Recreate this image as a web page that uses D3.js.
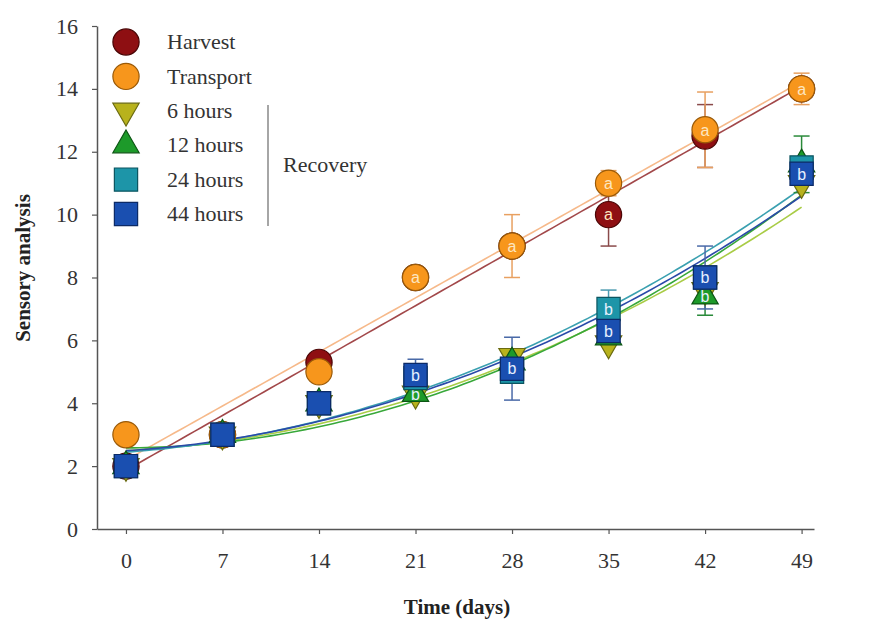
<!DOCTYPE html>
<html>
<head>
<meta charset="utf-8">
<script src="https://cdn.jsdelivr.net/npm/d3@7"></script>
<style>
  body { margin: 0; background: #fff; }
  svg { display: block; }
</style>
</head>
<body>
<div id="chart"></div>
<script>
// values
const days = [0, 7, 14, 21, 28, 35, 42, 49];

const harvest   = [2, 3, 5.3, 8, 9, 10, 12.5, 14];
const transport = [3, 3, 5, 8, 9, 11, 12.7, 14];
const hours6    = [2, 3, 4, 4.3, 5.5, 5.9, 7.6, 11.0];
const hours12   = [2, 3, 4, 4.3, 5.3, 6.1, 7.4, 11.6];
const hours24   = [2, 3, 4, 4.8, 5.0, 7.0, 8.0, 11.5];
const hours44   = [2, 3, 4, 4.9, 5.1, 6.3, 8.0, 11.3];

const harvestErr   = [0, 0, 0, 0, 0, 1, 1, 0];
const transportErr = [0, 0, 0, 0, 1, 0.4, 1.2, 0.5];
const hours6Err    = [0, 0, 0, 0, 0, 0, 0, 0];
const hours12Err   = [0, 0, 0, 0, 0, 0, 0.6, 0.9];
const hours24Err   = [0, 0, 0, 0, 0, 0.6, 0, 0];
const hours44Err   = [0, 0, 0, 0.5, 1.0, 0, 1.0, 0];

const harvestLetters   = ['', '', '', '', '', 'a', '', ''];
const transportLetters = ['', '', '', 'a', 'a', 'a', 'a', 'a'];
const hours6Letters    = ['', '', '', '', '', '', '', ''];
const hours12Letters   = ['', '', '', 'b', '', '', 'b', ''];
const hours24Letters   = ['', '', '', '', '', 'b', '', ''];
const hours44Letters   = ['', '', '', 'b', 'b', 'b', 'b', 'b'];

const seriesNames = ['Harvest', 'Transport', '6 hours', '12 hours', '24 hours', '44 hours'];
const yTicks = [0, 2, 4, 6, 8, 10, 12, 14, 16];

const series = [
  { name: seriesNames[0], values: harvest,   err: harvestErr,   letters: harvestLetters,   shape: 'circle', fill: '#8e0f12', stroke: '#4a0606', line: '#a2484a', errColor: '#8a4a4a', deg: 1 },
  { name: seriesNames[1], values: transport, err: transportErr, letters: transportLetters, shape: 'circle', fill: '#f7961c', stroke: '#9a5a08', line: '#f6b98a', errColor: '#e8a060', deg: 1 },
  { name: seriesNames[2], values: hours6,    err: hours6Err,    letters: hours6Letters,    shape: 'down',   fill: '#b8b21c', stroke: '#6a6a10', line: '#a9cc46', errColor: '#9aaa40', deg: 2 },
  { name: seriesNames[3], values: hours12,   err: hours12Err,   letters: hours12Letters,   shape: 'up',     fill: '#1d9a2a', stroke: '#0c5514', line: '#38a83a', errColor: '#2a8a3a', deg: 2 },
  { name: seriesNames[4], values: hours24,   err: hours24Err,   letters: hours24Letters,   shape: 'square', fill: '#1d95a8', stroke: '#0c5560', line: '#3aa0b0', errColor: '#4a9ab0', deg: 2 },
  { name: seriesNames[5], values: hours44,   err: hours44Err,   letters: hours44Letters,   shape: 'square', fill: '#1a4fb0', stroke: '#0c2a66', line: '#2a4aa8', errColor: '#4a6aa8', deg: 2 }
];

// least squares polynomial fit
function polyfit(xs, ys, deg) {
  const n = deg + 1;
  const A = Array.from({ length: n }, () => new Array(n + 1).fill(0));
  xs.forEach((x, k) => {
    for (let i = 0; i < n; i++) {
      for (let j = 0; j < n; j++) A[i][j] += Math.pow(x, i + j);
      A[i][n] += ys[k] * Math.pow(x, i);
    }
  });
  for (let i = 0; i < n; i++) {
    let p = i;
    for (let r = i + 1; r < n; r++) if (Math.abs(A[r][i]) > Math.abs(A[p][i])) p = r;
    [A[i], A[p]] = [A[p], A[i]];
    for (let r = 0; r < n; r++) {
      if (r === i) continue;
      const f = A[r][i] / A[i][i];
      for (let c = i; c <= n; c++) A[r][c] -= f * A[i][c];
    }
  }
  const coef = A.map((row, i) => row[n] / row[i]);
  return x => coef.reduce((s, c, i) => s + c * Math.pow(x, i), 0);
}

const width = 871;
const height = 620;

const svg = d3.select('#chart')
  .append('svg')
  .attr('width', width)
  .attr('height', height)
  .style('font-family', '"Liberation Serif", "Times New Roman", serif');

const x = d3.scaleLinear().domain([-2.1, 49.9]).range([97, 814]);
const y = d3.scaleLinear().domain([0, 16]).range([529, 26]);

// axes
const xAxis = svg.append('g')
  .attr('transform', `translate(0,${y(0)})`)
  .call(d3.axisBottom(x).tickValues(days).tickSize(5).tickSizeOuter(0).tickPadding(18));

const yAxis = svg.append('g')
  .attr('transform', `translate(${x(-2.1)},0)`)
  .call(d3.axisLeft(y).tickValues(yTicks).tickSize(5).tickSizeOuter(0).tickPadding(14));

[xAxis, yAxis].forEach(ax => {
  ax.select('.domain').attr('stroke', '#555').attr('stroke-width', 1.5);
  ax.selectAll('.tick line').attr('stroke', '#555').attr('stroke-width', 1.2);
  ax.selectAll('.tick text')
    .attr('fill', '#333')
    .style('font-family', '"Liberation Serif", serif')
    .style('font-size', '22px');
});

svg.append('text')
  .attr('x', 457)
  .attr('y', 614)
  .attr('text-anchor', 'middle')
  .style('font-size', '21px')
  .style('font-weight', 'bold')
  .attr('fill', '#222')
  .text('Time (days)');

svg.append('text')
  .attr('transform', 'translate(30,268) rotate(-90)')
  .attr('text-anchor', 'middle')
  .style('font-size', '21px')
  .style('font-weight', 'bold')
  .attr('fill', '#222')
  .text('Sensory analysis');

// fitted curves
const fitDays = d3.range(0, 49.01, 0.5);
const line = d3.line().x(d => x(d[0])).y(d => y(d[1]));

svg.append('g')
  .selectAll('path')
  .data(series)
  .join('path')
  .attr('fill', 'none')
  .attr('stroke', d => d.line)
  .attr('stroke-width', 1.6)
  .attr('d', d => {
    const f = polyfit(days, d.values, d.deg);
    return line(fitDays.map(t => [t, f(t)]));
  });

// error bars
const errGroup = svg.append('g');
series.forEach(s => {
  const pts = days.map((t, i) => ({ t, v: s.values[i], e: s.err[i] })).filter(p => p.e > 0);
  const g = errGroup.append('g').attr('stroke', s.errColor).attr('stroke-width', 1.5);
  g.selectAll('.v').data(pts).join('line')
    .attr('x1', p => x(p.t)).attr('x2', p => x(p.t))
    .attr('y1', p => y(p.v - p.e)).attr('y2', p => y(p.v + p.e));
  g.selectAll('.lo').data(pts).join('line')
    .attr('x1', p => x(p.t) - 8).attr('x2', p => x(p.t) + 8)
    .attr('y1', p => y(p.v - p.e)).attr('y2', p => y(p.v - p.e));
  g.selectAll('.hi').data(pts).join('line')
    .attr('x1', p => x(p.t) - 8).attr('x2', p => x(p.t) + 8)
    .attr('y1', p => y(p.v + p.e)).attr('y2', p => y(p.v + p.e));
});

function symbolPath(shape) {
  if (shape === 'circle') return d3.symbol(d3.symbolCircle, 540)();
  if (shape === 'square') return d3.symbol(d3.symbolSquare, 540)();
  return d3.symbol(d3.symbolTriangle, 300)();
}

function drawMarker(g, s, cx, cy) {
  g.append('path')
    .attr('d', symbolPath(s.shape))
    .attr('transform', `translate(${cx},${cy})` + (s.shape === 'down' ? ' rotate(180)' : ''))
    .attr('fill', s.fill)
    .attr('stroke', s.stroke)
    .attr('stroke-width', 1.2);
}

// markers
const markGroup = svg.append('g');
series.forEach(s => {
  days.forEach((t, i) => {
    drawMarker(markGroup, s, x(t), y(s.values[i]));
    if (s.letters[i]) {
      markGroup.append('text')
        .attr('x', x(t))
        .attr('y', y(s.values[i]))
        .attr('dy', '0.36em')
        .attr('text-anchor', 'middle')
        .style('font-family', '"Liberation Sans", Arial, sans-serif')
        .style('font-size', '16px')
        .attr('fill', s.shape === 'circle' ? '#fde6c0' : '#e6f0ff')
        .text(s.letters[i]);
    }
  });
});

// legend
const legend = svg.append('g');
series.forEach((s, i) => {
  const ly = 42 + i * 34.4;
  drawMarker(legend, s, 126, ly);
  legend.append('text')
    .attr('x', 167)
    .attr('y', ly)
    .attr('dy', '0.33em')
    .style('font-size', '22px')
    .attr('fill', '#333')
    .text(s.name);
});

legend.append('line')
  .attr('x1', 268).attr('x2', 268)
  .attr('y1', 105).attr('y2', 226)
  .attr('stroke', '#888')
  .attr('stroke-width', 1.5);

legend.append('text')
  .attr('x', 283)
  .attr('y', 165)
  .attr('dy', '0.33em')
  .style('font-size', '22px')
  .attr('fill', '#333')
  .text('Recovery');
</script>
</body>
</html>
